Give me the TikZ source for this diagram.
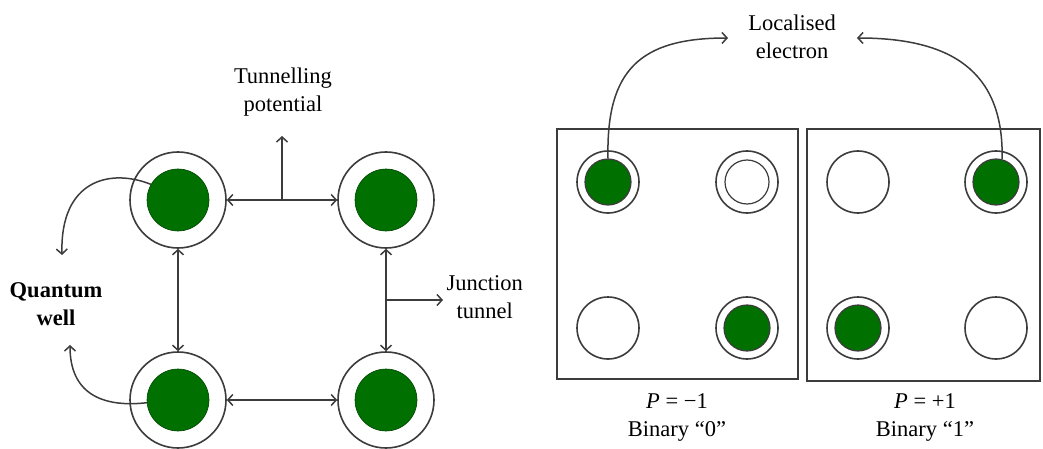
\documentclass[tikz,border=0pt]{standalone}
\usepackage{fontspec}
\setmainfont{Liberation Serif}
\usetikzlibrary{calc,arrows.meta}

\definecolor{wellgreen}{RGB}{0,112,0}
\definecolor{linegray}{RGB}{60,60,60}

\tikzset{
  >={Straight Barb[length=5pt,width=11pt]},
  well/.style={circle,draw=linegray,line width=1.6pt,fill=white,minimum size=96pt,inner sep=0pt},
  core/.style={circle,fill=wellgreen,draw=wellgreen!60!black,line width=0.6pt,minimum size=62pt,inner sep=0pt},
  cell/.style={circle,draw=linegray,line width=1.6pt,minimum size=62pt,inner sep=0pt},
  charge/.style={circle,fill=wellgreen,draw=linegray,line width=1.2pt,minimum size=46pt,inner sep=0pt},
  ring/.style={circle,draw=linegray,line width=1.2pt,minimum size=44pt,inner sep=0pt},
  frame/.style={draw=linegray,line width=1.6pt,inner sep=0pt},
  lab/.style={align=center,font=\fontsize{22.5}{28}\selectfont},
  conn/.style={draw=linegray,line width=1.5pt},
}

\begin{document}
\begin{tikzpicture}[x=1pt,y=-1pt]
  \useasboundingbox (0,0) rectangle (1043,449);

  % Quantum-dot cell with four wells
  \node[well] (wTL) at (178,200) {};
  \node[core] (gTL) at (wTL) {};
  \node[well] (wTR) at (386,200) {};
  \node[core] (gTR) at (wTR) {};
  \node[well] (wBL) at (178,400) {};
  \node[core] (gBL) at (wBL) {};
  \node[well] (wBR) at (386,400) {};
  \node[core] (gBR) at (wBR) {};

  \draw[conn,<->] (wTL) -- (wTR);
  \draw[conn,<->] (wBL) -- (wBR);
  \draw[conn,<->] (wTL) -- (wBL);
  \draw[conn,<->] (wTR) -- (wBR);

  % Tunnelling potential
  \node[lab] (tplab) at (283,92) {Tunnelling\\potential};
  \coordinate (tmid) at ($(wTL)!0.5!(wTR)$);
  \coordinate (tptip) at ($(tmid)+(0,-64)$);
  \draw[conn,->] (tmid) -- (tptip);

  % Junction tunnel
  \node[lab,anchor=west] (jtlab) at (443,297) {Junction\\tunnel};
  \coordinate (jmid) at ($(wTR)!0.5!(wBR)$);
  \draw[conn,->] (jmid) -- (jmid -| jtlab.west);

  % Quantum well
  \node[lab,font=\fontsize{22.5}{28}\selectfont\bfseries] (qwlab) at (56,304) {Quantum\\well};
  \coordinate (qwtop) at (62,255);
  \coordinate (qwbot) at (70,345);
  \draw[conn,->] (gTL.150) .. controls (110,168) and (60,180) .. (qwtop);
  \draw[conn,->] (gBL.185) .. controls (100,408) and (70,392) .. (qwbot);

  % P = -1 (binary 0)
  \node[frame,minimum width=241pt,minimum height=250pt] (box0) at (677.5,254) {};
  \node[cell] (c0a) at (608,182) {};
  \node[charge] (e0a) at (c0a) {};
  \node[cell] (c0b) at (747,182) {};
  \node[ring] (r0b) at (c0b) {};
  \node[cell] (c0c) at (608,328) {};
  \node[cell] (c0d) at (747,328) {};
  \node[charge] (e0d) at (c0d) {};
  \node[lab] (p0lab) at (677,417) {\textit{P} = −1\\Binary ``0''};

  % P = +1 (binary 1)
  \node[frame,minimum width=233pt,minimum height=252pt] (box1) at (923.5,255) {};
  \node[cell] (c1a) at (858,182) {};
  \node[cell] (c1b) at (996,182) {};
  \node[charge] (e1b) at (c1b) {};
  \node[cell] (c1c) at (858,328) {};
  \node[charge] (e1c) at (c1c) {};
  \node[cell] (c1d) at (996,328) {};
  \node[lab] (p1lab) at (925,417) {\textit{P} = +1\\Binary ``1''};

  % Localised electron
  \node[lab] (lelab) at (792,37) {Localised\\electron};
  \coordinate (letipL) at (728,38);
  \coordinate (letipR) at (857,38);
  \draw[conn,->] (e0a.north) .. controls (606,70) and (640,38) .. (letipL);
  \draw[conn,->] (e1b.75) .. controls (1004,70) and (950,38) .. (letipR);
\end{tikzpicture}
\end{document}
